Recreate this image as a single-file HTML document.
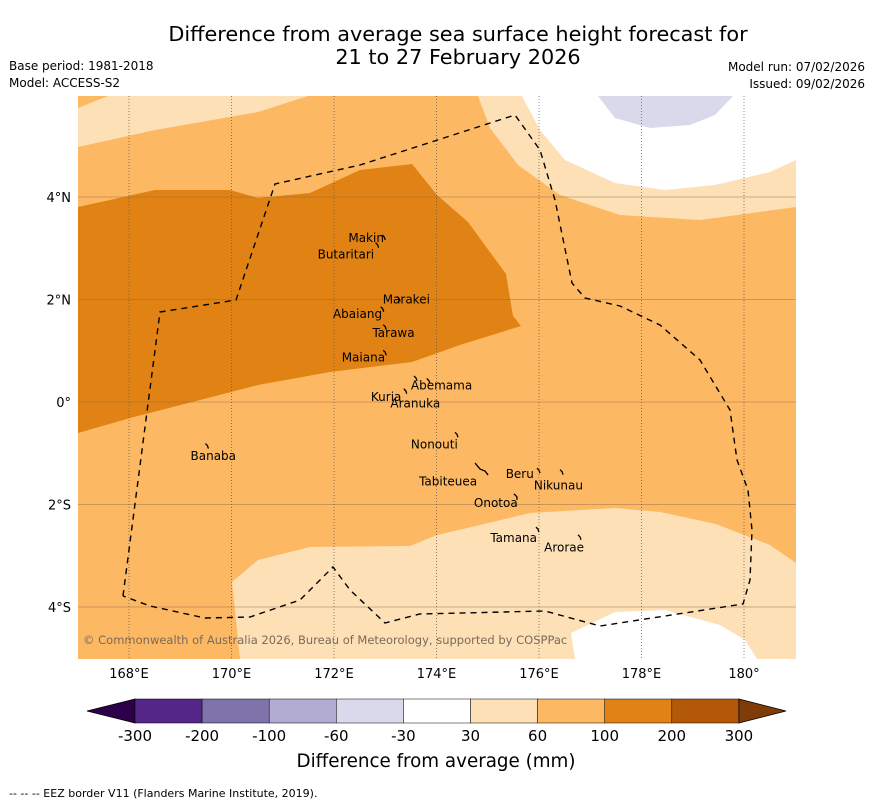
<!DOCTYPE html>
<html><head><meta charset="utf-8"><style>
body{margin:0;background:#fff;}
svg{display:block;font-family:"DejaVu Sans","Liberation Sans",sans-serif;}
</style></head><body>
<svg id="c" width="873" height="804" viewBox="0 0 873 804">
<text x="458" y="41" font-size="20.8" text-anchor="middle">Difference from average sea surface height forecast for</text>
<text x="458" y="64" font-size="20.8" text-anchor="middle">21 to 27 February 2026</text>
<text x="9" y="70" font-size="12">Base period: 1981-2018</text>
<text x="9" y="87" font-size="12">Model: ACCESS-S2</text>
<text x="865" y="71" font-size="12" text-anchor="end">Model run: 07/02/2026</text>
<text x="865" y="88" font-size="12" text-anchor="end">Issued: 09/02/2026</text>
<defs><clipPath id="mc"><rect x="78" y="96" width="718" height="563"/></clipPath></defs>
<g clip-path="url(#mc)">
<rect x="78" y="96" width="718" height="563" fill="#fdb863"/>
<polygon fill="#fee0b6" points="78,108 108,96 308,96 258,112 155,130 78,147"/>
<polygon fill="#e08214" points="78,207 155,190 230,190 258,198 310,193 360,170 412,164 437,195 468,222 506,274 513,316 521,326 460,345 412,362 330,372 258,385 200,400 130,418 78,433"/>
<polygon fill="#fee0b6" points="478,96 796,96 796,207 700,220 620,215 560,195 518,165 490,128"/>
<polygon fill="#ffffff" points="522,96 796,96 796,160 770,172 715,185 665,190 615,183 565,160 540,130"/>
<polygon fill="#d8daeb" points="598,96 733,96 715,115 690,125 650,128 615,118"/>
<polygon fill="#fee0b6" points="232,582 258,560 310,547 410,546 437,535 480,525 530,513 615,508 660,512 716,524 770,545 796,563 796,659 240,659"/>
<polygon fill="#ffffff" points="571,633 615,612 665,610 720,625 745,640 757,659 575,659"/>
<g id="grid"></g>
<polyline fill="none" stroke="#000" stroke-width="1.4" stroke-dasharray="6,5" points="123,596 160,312 236,300 275,184 360,165 515,115 540,150 555,200 572,283 585,298 620,306 660,325 700,360 730,410 737,460 748,490 752,530 750,580 743,604 600,626 545,611 420,614 385,623 350,590 333,567 300,600 250,617 205,618 150,606 123,596"/>
<g id="islands"></g>
<text x="83" y="644" font-size="11.5" fill="#7a6a5a">© Commonwealth of Australia 2026, Bureau of Meteorology, supported by COSPPac</text>
</g>
<g id="axes"></g>
<g id="cbar"></g>
<text x="436" y="767" font-size="18.3" text-anchor="middle">Difference from average (mm)</text>
<text x="9" y="797" font-size="11">--  --  -- EEZ border V11 (Flanders Marine Institute, 2019).</text>
</svg>
<script>
const lonTicks=[168,170,172,174,176,178,180];
const lonLabels=["168°E","170°E","172°E","174°E","176°E","178°E","180°"];
const latTicks=[4,2,0,-2,-4];
const latLabels=["4°N","2°N","0°","2°S","4°S"];
const islandNames=["Makin","Butaritari","Marakei","Abaiang","Tarawa","Maiana","Abemama","Kuria","Aranuka","Nonouti","Banaba","Beru","Nikunau","Tabiteuea","Onotoa","Tamana","Arorae"];
const islandLon=[172.98,172.85,173.27,172.95,173.0,173.0,173.85,173.4,173.6,174.4,169.53,176.0,176.45,174.85,175.55,175.98,176.8];
const islandLat=[3.2,3.05,2.0,1.8,1.45,0.95,0.4,0.2,0.45,-0.65,-0.87,-1.35,-1.38,-1.25,-1.85,-2.5,-2.65];
const labelLon=[172.28,171.68,172.95,171.98,172.75,172.15,173.5,172.72,173.1,173.5,169.2,175.35,175.9,173.66,174.73,175.05,176.1];
const labelLat=[3.2,2.88,2.0,1.72,1.35,0.87,0.32,0.1,-0.03,-0.83,-1.05,-1.4,-1.63,-1.55,-1.97,-2.65,-2.84];
const cbLabels=["-300","-200","-100","-60","-30","30","60","100","200","300"];
const cbColors=["#542788","#8073ac","#b2abd2","#d8daeb","#ffffff","#fee0b6","#fdb863","#e08214","#b35806"];
const NS="http://www.w3.org/2000/svg";
const X=lon=>129+(lon-168)*51.25;
const Y=lat=>402-lat*51.25;
function mk(t,a,p){const e=document.createElementNS(NS,t);for(const k in a)e.setAttribute(k,a[k]);p.appendChild(e);return e;}
const grid=document.getElementById('grid'),axes=document.getElementById('axes'),isl=document.getElementById('islands'),cb=document.getElementById('cbar');
lonTicks.forEach((v,i)=>{
 const l=mk('line',{x1:X(v),x2:X(v),y1:96,y2:659,stroke:'#555','stroke-width':0.7,'stroke-dasharray':'1,2'},grid);
 
 
 const t=mk('text',{x:X(v),y:678,'font-size':13,'text-anchor':'middle'},axes);t.textContent=lonLabels[i];
 
 
});
latTicks.forEach((v,i)=>{
 const l=mk('line',{x1:78,x2:796,y1:Y(v),y2:Y(v),stroke:'#8a6a4a','stroke-width':0.8,'stroke-opacity':0.6},grid);
 
 
 const t=mk('text',{x:71,y:Y(v)+5,'font-size':13,'text-anchor':'end'},axes);t.textContent=latLabels[i];
 
 
});
islandNames.forEach((n,i)=>{
 const x=X(islandLon[i]),y=Y(islandLat[i]);
 const d=(n==="Tabiteuea")?`M${x-5},${y-3} l5,6 l5,2 l3,4`:(n==="Onotoa")?`M${x-2},${y-3} l3,3 l0,3`:`M${x-2},${y-3} l2,2 l1,3`;
 const p=mk('path',{d:d,stroke:'#000','stroke-width':1.3,fill:'none'},isl);
 
 
 const t=mk('text',{x:X(labelLon[i]),y:Y(labelLat[i])+4,'font-size':12},isl);t.textContent=n;
 
 
});
const x0=135,w=67.1,y0=699,h=24;
const tl=mk('polygon',{points:`87,711 ${x0},${y0} ${x0},${y0+h}`,fill:'#2d004b',stroke:'#000','stroke-width':0.8},cb);


cbColors.forEach((c,i)=>{
 const r=mk('rect',{x:x0+i*w,y:y0,width:w,height:h,fill:c,stroke:'#000','stroke-width':0.5},cb);
 
 
});
const xe=x0+cbColors.length*w;
const tr=mk('polygon',{points:`${xe},${y0} 786,711 ${xe},${y0+h}`,fill:'#7f3b08',stroke:'#000','stroke-width':0.8},cb);


cbLabels.forEach((s,i)=>{
 const t=mk('text',{x:x0+i*w,y:741,'font-size':15,'text-anchor':'middle'},cb);t.textContent=s;
 
 
});
</script>
</body></html>
